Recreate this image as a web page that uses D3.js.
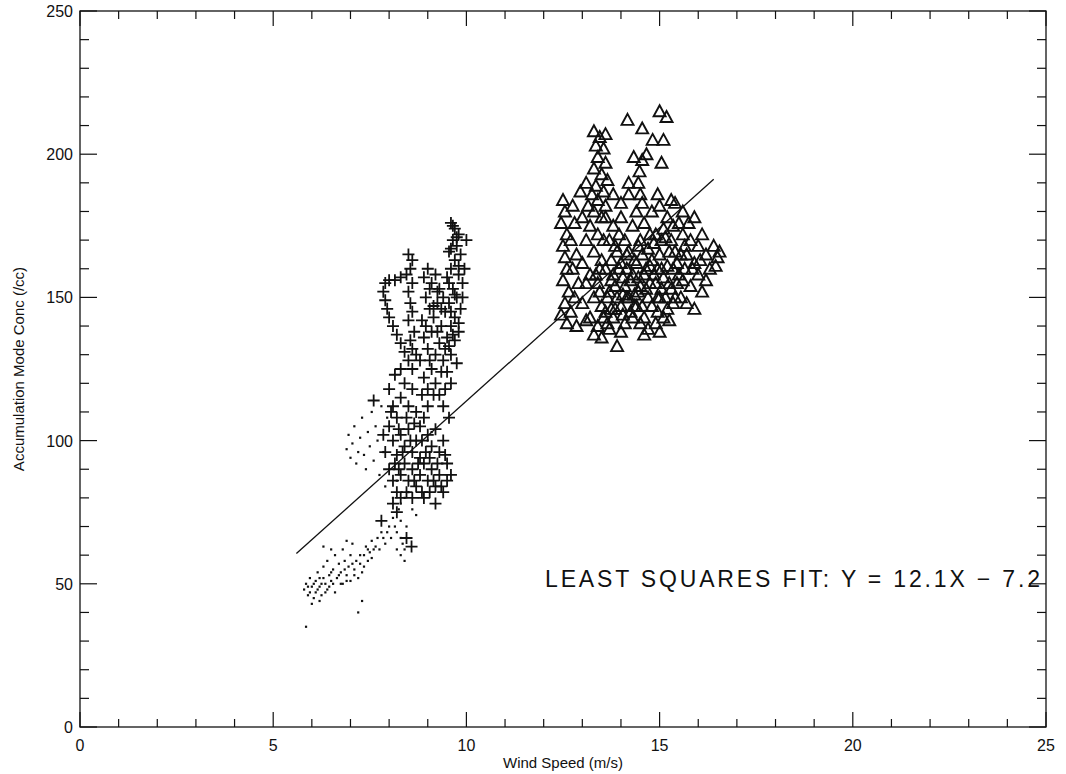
<!DOCTYPE html>
<meta charset="utf-8">
<style>
body { margin: 0; background: #fff; }
text { font-family: "Liberation Sans", sans-serif; fill: #111; }
</style>
<body>
<script src="https://d3js.org/d3.v7.min.js"></script>
<script>
var width = 1066, height = 774;
var margin = {left: 80, right: 20, top: 11, bottom: 47};

// small dots (lower-left trail)
var dotPoints = [[5.8,48],[5.85,50],[5.9,46],[5.95,52],[6.0,49],[6.05,45],[6.1,51],[6.1,47],[6.15,54],[6.2,49],[6.25,46],[6.3,52],[6.3,56],[6.35,50],[6.4,48],[6.4,58],[6.45,53],[6.5,51],[6.55,55],[6.6,47],[6.6,60],[6.65,52],[6.7,57],[6.75,54],[6.8,50],[6.8,62],[6.85,58],[6.9,53],[6.95,56],[7.0,60],[7.0,51],[7.05,64],[7.1,55],[7.15,58],[7.2,52],[7.25,57],[7.3,54],[7.35,60],[7.4,63],[7.45,58],[7.5,61],[7.55,65],[7.6,62],[7.7,66],[7.75,62],[7.8,68],[7.9,64],[8.0,70],[8.05,66],[8.1,73],[8.2,68],[8.25,76],[8.3,72],[8.35,64],[8.4,80],[8.45,70],[5.85,35],[7.2,40],[7.3,44],[6.2,44],[6.0,43],[6.9,65],[6.5,62],[6.3,63],
  [5.9,49],[5.95,47],[6.05,50],[6.15,48],[6.2,52],[6.25,50],[6.35,47],[6.45,49],[6.5,54],[6.55,50],[6.7,53],[6.75,50],[6.85,55],[6.9,51],[7.05,57],[7.1,53],[7.25,60],[7.35,56],[7.45,62],[7.55,59],[7.65,63],[7.85,66],[7.95,68],[8.15,70],[8.3,66],[8.4,62],
  [6.9,97],[6.95,102],[7.0,94],[7.05,99],[7.1,105],[7.15,92],[7.2,96],[7.25,101],[7.3,108],[7.35,95],[7.4,90],[7.45,103],[7.5,98],[7.55,110],[7.6,93],[7.65,105],[7.7,100],[7.75,88],[7.8,112],[7.85,96],[7.9,84],[7.95,108],[8.0,90],[8.1,80],[8.2,86],[8.3,78],[8.5,82],[8.6,76],[8.7,74],[9.0,100],[9.05,96],[9.1,103],[8.3,60],[8.4,58],[8.2,62]];

// plus markers
var plusPoints = [[9.6,176],[9.7,174],[9.8,172],[9.65,170],[9.75,168],[9.55,166],[9.85,165],[9.7,163],[9.6,160],[9.8,158],[9.5,157],[9.9,155],[9.65,153],[9.75,150],[9.55,148],[9.85,146],[9.7,143],[9.6,140],[9.8,138],[9.7,135],[9.6,130],[9.75,127],[10.0,170],[9.95,160],[9.9,150],
  [9.65,175],[9.75,171],[9.6,167],[9.8,161],[9.55,155],[9.7,151],[9.6,145],[9.8,141],[9.65,137],[9.55,133],
  [8.5,165],[8.6,163],[8.55,160],[8.45,158],[8.6,155],[8.5,152],[8.55,148],[8.6,145],[8.5,142],[8.65,138],[8.55,135],[8.6,132],[8.3,157],[8.15,156],[8.0,156],[7.9,155],[7.85,152],[7.9,149],[7.95,146],[8.0,143],[8.1,140],[8.2,137],[8.3,134],[8.4,131],[8.5,128],
  [8.9,157],[9.0,160],[9.1,155],[9.2,158],[9.3,153],[9.4,150],[8.95,150],[9.05,146],[9.15,143],[9.25,148],[9.35,140],[9.45,145],[9.5,136],[8.85,142],[8.9,136],[9.0,132],[9.1,138],[9.2,130],[9.3,134],[9.4,128],[9.5,124],[9.6,120],[8.8,128],[8.9,122],[9.0,118],[9.1,125],[9.2,120],[9.3,116],[9.4,112],[9.55,108],
  [9.05,153],[9.25,152],[9.15,147],[9.35,146],[8.95,140],[9.25,138],[9.45,132],[9.05,128],[9.35,124],[9.15,116],[9.45,118],[8.85,116],
  [7.6,114],[8.15,123],[8.0,118],[8.1,112],[8.2,108],[8.3,115],[8.4,120],[8.5,112],[8.6,118],[8.7,110],[8.8,105],[8.0,105],[8.1,100],[8.2,95],[8.3,102],[8.4,98],[8.5,104],[8.6,96],[8.7,100],[8.8,94],[8.9,108],[9.0,102],[9.1,98],[9.2,104],[9.3,96],[9.4,100],[9.5,92],[9.6,88],[7.9,96],[7.85,102],[8.0,90],[8.1,86],[8.2,82],[8.3,88],[8.4,92],[8.5,86],[8.6,90],[8.7,84],[8.8,88],[8.9,92],[9.0,86],[9.1,90],[9.2,84],[9.3,88],[9.4,82],[9.5,86],[8.1,78],[8.2,75],[8.3,80],[8.6,80],[8.9,80],[9.2,78],[9.0,112],[8.6,125],[8.7,130],[8.3,125],[7.8,72],[8.58,63],[8.45,66],
  [8.05,110],[8.25,104],[8.45,108],[8.65,106],[8.85,100],[9.05,94],[9.25,92],[9.45,95],[8.15,92],[8.35,96],[8.55,100],[8.75,92],[8.95,96],[9.15,86],[9.35,84],[8.25,90],[8.45,82],[8.65,86],[8.85,82],[9.05,82]];

// triangle markers
var trianglePoints = [[13.3,208],[13.45,206],[13.6,207],[13.35,203],[13.55,202],[13.4,199],[13.6,197],[13.3,195],[13.5,193],[13.65,191],[13.35,189],[13.55,187],[13.4,184],[13.6,182],[13.3,180],[13.5,178],
  [14.17,212],[15.0,215],[15.18,213],[14.55,209],[14.82,205],[15.1,205],[14.66,200],[14.33,199],[14.55,198],[15.05,197],[14.48,194],[14.45,190],[14.5,186],[14.55,183],[14.0,183],
  [12.5,184],[12.55,180],[12.45,176],[12.6,172],[12.5,168],[12.55,164],[12.6,160],[12.5,156],[12.65,152],[12.55,148],[12.45,144],[12.6,141],[12.75,182],[12.8,176],[12.7,170],[12.85,165],[12.75,160],[12.9,155],[12.8,150],[12.7,145],[12.85,140],
  [13.0,178],[13.1,170],[13.0,162],[13.1,155],[13.0,148],[13.1,142],[13.2,175],[13.3,166],[13.2,158],[13.3,150],[13.2,143],[13.3,137],[13.4,172],[13.5,163],[13.4,155],[13.5,147],[13.4,140],[13.5,136],[13.6,178],[13.7,170],[13.6,160],[13.7,152],[13.6,145],[13.7,139],[13.8,175],[13.9,166],[13.8,158],[13.9,150],[13.8,143],[13.9,133],[14.0,178],[14.1,170],[14.0,162],[14.1,154],[14.0,147],[14.1,141],[14.2,186],[14.3,175],[14.2,166],[14.3,158],[14.2,150],[14.3,143],[14.4,180],[14.5,170],[14.4,162],[14.5,154],[14.4,147],[14.5,141],[14.6,176],[14.7,167],[14.6,158],[14.7,150],[14.6,143],[14.7,139],[14.8,180],[14.9,172],[14.8,163],[14.9,155],[14.8,147],[14.9,141],[15.0,182],[15.1,174],[15.0,165],[15.1,157],[15.0,150],[15.1,143],[15.2,178],[15.3,170],[15.2,161],[15.3,153],[15.2,146],[15.4,183],[15.5,176],[15.4,166],[15.5,158],[15.4,150],[15.6,172],[15.7,165],[15.6,156],[15.7,148],[15.8,170],[15.9,162],[15.8,154],[15.9,146],[16.0,168],[16.0,158],[16.1,152],[16.2,165],[16.3,160],[16.4,168],[16.5,164],[16.55,166],[16.45,161],[16.1,172],[16.2,156],[15.9,178],[15.3,184],[14.95,186],[15.6,180],[15.75,176],
  [13.15,182],[13.45,160],[13.75,163],[14.05,157],[14.35,163],[14.65,153],[14.95,160],[15.25,166],[15.55,150],[13.95,172],[14.25,145],[14.55,165],[14.85,169],[15.15,171],[15.45,162],[13.65,141],[13.85,146],[14.15,150],[14.45,157],[14.75,161],[15.05,153],[15.35,148],[14.0,138],[14.6,137],[15.0,138],[13.55,170],[13.25,186],[13.8,186],[14.2,190],[12.95,187],[13.1,190],
  [13.35,158],[13.45,152],[13.65,150],[13.75,146],[13.85,154],[13.95,160],[14.05,151],[14.15,160],[14.25,156],[14.35,151],[14.45,152],[14.55,147],[14.65,160],[14.75,155],[14.85,158],[14.95,150],[15.05,160],[15.15,150],[15.25,155],[15.35,160],[15.45,155],[15.55,165],[15.65,160],[13.85,168],[14.15,165],[14.45,168],[14.75,172],[15.05,170],[15.35,175],[15.65,168],[13.75,156],[14.35,147],[14.95,145],[15.25,142],[13.55,143],[14.05,144],[15.85,160],[16.05,163]];

var fitSlope = 12.1, fitIntercept = -7.2, fitRange = [5.6, 16.4];
var fitLabel = "LEAST SQUARES FIT: Y = 12.1X \u2212 7.2";
var xTicks = [0, 5, 10, 15, 20, 25];
var yTicks = [0, 50, 100, 150, 200, 250];

var x = d3.scaleLinear().domain([0, 25]).range([margin.left, width - margin.right]);
var y = d3.scaleLinear().domain([0, 250]).range([height - margin.bottom, margin.top]);

var svg = d3.select("body").append("svg").attr("width", width).attr("height", height);
var g = svg.append("g");

// frame
g.append("rect").attr("x", x(0)).attr("y", y(250))
  .attr("width", x(25) - x(0)).attr("height", y(0) - y(250))
  .attr("fill", "none").attr("stroke", "#111").attr("stroke-width", 1.3);

// inward ticks on all four sides
var xMinor = d3.range(0, 26, 1), yMinor = d3.range(0, 251, 10);
function tick(x1, y1, x2, y2) {
  g.append("line").attr("x1", x1).attr("y1", y1).attr("x2", x2).attr("y2", y2)
    .attr("stroke", "#111").attr("stroke-width", 1.2);
}
xMinor.forEach(function(v) {
  var len = v % 5 === 0 ? 15 : 8;
  tick(x(v), y(0), x(v), y(0) - len);
  tick(x(v), y(250), x(v), y(250) + len);
});
yMinor.forEach(function(v) {
  var len = v % 50 === 0 ? 17 : 9;
  tick(x(0), y(v), x(0) + len, y(v));
  tick(x(25), y(v), x(25) - len, y(v));
});

g.selectAll(".xl").data(xTicks).enter().append("text")
  .attr("x", function(d){ return x(d); }).attr("y", y(0) + 24)
  .attr("text-anchor", "middle").style("font-size", "16px").text(function(d){ return d; });
g.selectAll(".yl").data(yTicks).enter().append("text")
  .attr("x", x(0) - 7).attr("y", function(d){ return y(d) + 6; })
  .attr("text-anchor", "end").style("font-size", "16px").text(function(d){ return d; });

g.append("text").attr("x", (x(0) + x(25)) / 2).attr("y", height - 6)
  .attr("text-anchor", "middle").style("font-size", "15px").text("Wind Speed (m/s)");
g.append("text").attr("transform", "translate(24," + ((y(0) + y(250)) / 2) + ") rotate(-90)")
  .attr("text-anchor", "middle").style("font-size", "15px").text("Accumulation Mode Conc (/cc)");

// dots
g.selectAll(".dot").data(dotPoints).enter().append("rect")
  .attr("x", function(d){ return x(d[0]) - 1.1; }).attr("y", function(d){ return y(d[1]) - 1.1; })
  .attr("width", 2.2).attr("height", 2.2).attr("fill", "#111");

// pluses
g.selectAll(".plus").data(plusPoints).enter().append("path")
  .attr("transform", function(d){ return "translate(" + x(d[0]) + "," + y(d[1]) + ")"; })
  .attr("d", "M-6,0H6M0,-6V6")
  .attr("stroke", "#111").attr("stroke-width", 1.8).attr("fill", "none");

// triangles
g.selectAll(".tri").data(trianglePoints).enter().append("path")
  .attr("transform", function(d){ return "translate(" + x(d[0]) + "," + y(d[1]) + ")"; })
  .attr("d", "M0,-6L6,5H-6Z")
  .attr("stroke", "#111").attr("stroke-width", 1.9).attr("fill", "none");

// fit line
g.append("line")
  .attr("x1", x(fitRange[0])).attr("y1", y(fitSlope * fitRange[0] + fitIntercept))
  .attr("x2", x(fitRange[1])).attr("y2", y(fitSlope * fitRange[1] + fitIntercept))
  .attr("stroke", "#111").attr("stroke-width", 1.3);

g.append("text").attr("x", 545).attr("y", 587)
  .attr("textLength", 495).attr("lengthAdjust", "spacing")
  .style("font-size", "23px").style("font-weight", "300").text(fitLabel);
</script>
</body>
